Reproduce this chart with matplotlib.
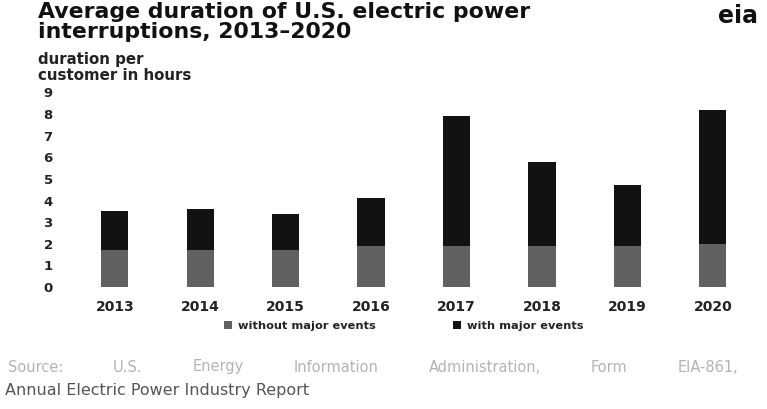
import matplotlib
matplotlib.use("Agg")
import matplotlib.pyplot as plt
import numpy as np

years = ["2013", "2014", "2015", "2016", "2017", "2018", "2019", "2020"]
without_major = [1.7, 1.7, 1.7, 1.9, 1.9, 1.9, 1.9, 2.0]
total_hours = [3.5, 3.6, 3.4, 4.1, 7.9, 5.8, 4.7, 8.2]
major_events = [t - w for t, w in zip(total_hours, without_major)]
yticks = list(range(0, 10))
source_line1 = "Source: U.S. Energy Information Administration, Form EIA-861,"
source_line2 = "Annual Electric Power Industry Report"

c_without = "#616161"
c_major = "#121212"

W, H = 767, 409
fig = plt.figure(figsize=(W / 100, H / 100), dpi=100)
ax = fig.add_axes([0.094, 0.298, 0.891, 0.476])

x = np.arange(len(years))
w = 0.32
ax.bar(x, without_major, width=w, color=c_without, label="without major events")
ax.bar(x, major_events, width=w, bottom=without_major, color=c_major, label="with major events")

ax.set_xlim(-0.5, len(years) - 0.5)
ax.set_ylim(0, 9)
ax.set_yticks(yticks)
ax.set_xticks(x)
ax.set_xticklabels(years)
for s in ax.spines.values():
    s.set_visible(False)
ax.tick_params(axis="y", length=0, pad=14, labelsize=9.5, colors="#222222")
ax.tick_params(axis="x", length=0, pad=9, labelsize=10, colors="#222222")
for t in ax.get_xticklabels() + ax.get_yticklabels():
    t.set_fontweight("bold")

leg = fig.legend(loc="center", bbox_to_anchor=(404 / W, 1 - 326 / H), ncol=2, frameon=False,
                 fontsize=8.2, handlelength=0.7, handleheight=0.7, columnspacing=6.8,
                 handletextpad=0.5)
for t in leg.get_texts():
    t.set_fontweight("bold")
    t.set_color("#222222")

fig.text(38 / W, 1 - 2 / H, "Average duration of U.S. electric power\ninterruptions, 2013\u20132020",
         ha="left", va="top", fontsize=15.8, fontweight="bold", color="#111111", linespacing=1.0)
fig.text(38 / W, 1 - 52 / H, "duration per\ncustomer in hours", ha="left", va="top",
         fontsize=10.8, fontweight="bold", color="#222222", linespacing=1.05)
fig.text(758 / W, 1 - 4 / H, "eia", ha="right", va="top", fontsize=17, fontweight="bold",
         color="#111111")

# justified first source line
words = source_line1.split(" ")
objs = [fig.text(0, 1 - 367 / H, wd, ha="left", va="center", fontsize=10.5, color="#b4b4b4")
        for wd in words]
fig.canvas.draw()
r = fig.canvas.get_renderer()
widths = [o.get_window_extent(r).width for o in objs]
x0, x1 = 8, 738
gap = (x1 - x0 - sum(widths)) / (len(words) - 1)
pos = x0
for o, wd in zip(objs, widths):
    o.set_x(pos / W)
    pos += wd + gap

fig.text(5 / W, 1 - 390 / H, source_line2, ha="left", va="center",
         fontsize=11.5, color="#555555")

fig.savefig("out.png", dpi=100)
